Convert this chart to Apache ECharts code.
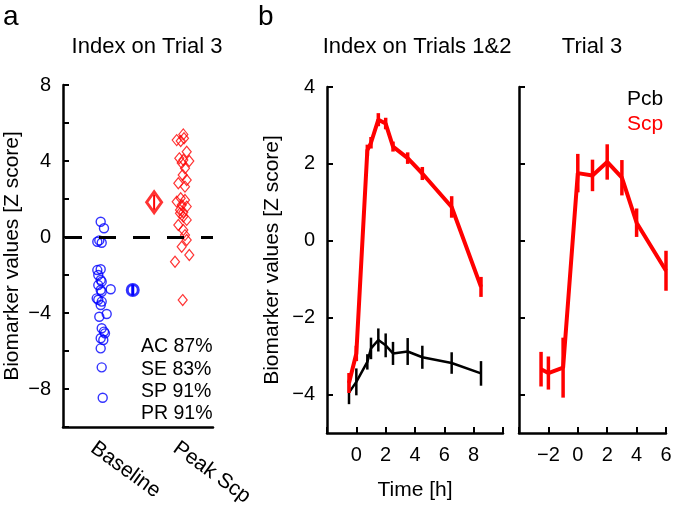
<!DOCTYPE html>
<html><head><meta charset="utf-8">
<script src="https://cdn.jsdelivr.net/npm/echarts@6/dist/echarts.min.js"></script>
<style>html,body{margin:0;padding:0;background:#fff}#c{width:675px;height:517px}</style>
</head><body><div id="c"></div>
<script>
// ---------- Panel a : Index on Trial 3 ----------
const groupLabels = ['Baseline', 'Peak Scp'];
const baselineX = [1.005,1.093,0.915,1.032,0.968, 0.915,1.005,0.941,1.005,1.032,0.941,1.272,1.005,1.032,0.899,0.941,1.032,1.005,0.968,1.165,1.032,1.093,1.12,1.005,1.075,1.005,1.032,1.059];
const baselineY = [0.8,0.46,-0.25,-0.3,-0.18, -1.74,-1.7,-2.0,-2.26,-2.35,-2.53,-2.75,-2.79,-2.88,-3.23,-3.3,-3.4,-3.58,-4.2,-4.05,-4.8,-4.98,-5.07,-5.33,-5.42,-5.86,-6.86,-8.46];
const peakX = [3.208,3.032,3.139,3.227,3.299,3.101,3.208,3.368,3.165,3.253,3.192,3.299,3.075,3.253,3.139,3.032,3.253,3.165,3.299,3.12,3.208,3.12,3.208,3.075,3.299,3.208,3.253,3.299,3.165,3.368,2.987,3.192];
const peakY = [5.4,5.1,5.05,5.2,4.49,4.14,4.05,4.0,3.9,3.62,3.26,3.0,2.83,2.65,2.04,1.86,1.95,1.68,1.6,1.42,1.3,1.25,1.08,0.63,0.9,0.37,0.1,-0.16,-0.51,-0.95,-1.3,-3.32];
const meanX = [1.86, 2.43];
const meanY = [-2.79, 1.83];
const meanErr = [0.3, 0.4];
const statLines = ['AC 87%', 'SE 83%', 'SP 91%', 'PR 91%'];

// ---------- Panel b : Index on Trials 1&2 ----------
const timesA = [-0.5, 0, 0.75, 1, 1.5, 2, 2.5, 3.5, 4.5, 6.5, 8.5];
const pcbA = [-3.95, -3.67, -3.15, -2.8, -2.58, -2.72, -2.93, -2.88, -3.03, -3.18, -3.45];
const pcbAErr = [0.3, 0.35, 0.2, 0.28, 0.3, 0.31, 0.3, 0.35, 0.3, 0.28, 0.32];
const scpA = [-3.7, -2.93, 2.35, 2.55, 3.15, 3.05, 2.45, 2.15, 1.75, 0.88, -1.2];
const scpAErr = [0.26, 0.2, 0.15, 0.15, 0.17, 0.15, 0.13, 0.15, 0.17, 0.28, 0.26];
// ---------- Panel b : Trial 3 ----------
const timesB = [-2.5, -2, -1, 0, 1, 2, 3, 4, 6];
const scpB = [-3.34, -3.44, -3.3, 1.76, 1.7, 2.05, 1.64, 0.47, -0.78];
const scpBErr = [0.45, 0.43, 0.78, 0.5, 0.41, 0.46, 0.46, 0.37, 0.52];

const yTicksB = [-4, -2, 0, 2, 4];

const FONT = "'Liberation Sans', Arial, sans-serif";
const BLUE = '#0000ff', RED = '#ff0000', BLACK = '#000000';
const fmtNum = v => (v < 0 ? '\u2212' + Math.abs(v) : String(v));
const zip = (xs, ys) => xs.map((x, i) => [x, ys[i]]);

function errSeries(xi, yi, xs, ys, es, color, width, z) {
  return {
    type: 'custom', xAxisIndex: xi, yAxisIndex: yi, silent: true, z: z || 3,
    data: xs.map((x, i) => [x, ys[i] - es[i], ys[i] + es[i]]),
    encode: { x: 0, y: [1, 2] },
    renderItem(params, api) {
      const lo = api.coord([api.value(0), api.value(1)]);
      const hi = api.coord([api.value(0), api.value(2)]);
      return { type: 'line', shape: { x1: lo[0], y1: lo[1], x2: hi[0], y2: hi[1] },
        style: { stroke: color, lineWidth: width } };
    }
  };
}

const axisLineStyle = { show: true, onZero: false, lineStyle: { color: BLACK, width: 2.5 } };
const tickStyle = { show: true, inside: true, length: 6, lineStyle: { color: BLACK, width: 2 } };
const labelBase = { color: BLACK, fontSize: 20, fontFamily: FONT };
const nameStyle = { color: BLACK, fontSize: 21, fontFamily: FONT };

const chart = echarts.init(document.getElementById('c'), null, { renderer: 'canvas' });
chart.setOption({
  animation: false,
  backgroundColor: '#fff',
  textStyle: { fontFamily: FONT },
  grid: [
    { left: 63, top: 85, width: 150, height: 342 },
    { left: 327, top: 87, width: 176, height: 346 },
    { left: 519, top: 87, width: 147, height: 346 }
  ],
  xAxis: [
    { gridIndex: 0, type: 'value', min: 0, max: 4, splitLine: { show: false },
      axisLine: axisLineStyle, axisTick: { show: false },
      axisLabel: Object.assign({}, labelBase, { fontSize: 21, customValues: [0.8, 3.0], rotate: -36, margin: 19,
        formatter: v => (v < 2 ? groupLabels[0] : groupLabels[1]) }) },
    { gridIndex: 1, type: 'value', min: -2, max: 10, interval: 2, splitLine: { show: false },
      axisLine: axisLineStyle, axisTick: tickStyle,
      axisLabel: Object.assign({}, labelBase, { margin: 12, formatter: v => (v === -2 || v === 10 ? '' : fmtNum(v)) }),
      name: 'Time [h]', nameLocation: 'middle', nameGap: 47, nameTextStyle: nameStyle },
    { gridIndex: 2, type: 'value', min: -4, max: 6, interval: 2, splitLine: { show: false },
      axisLine: axisLineStyle, axisTick: tickStyle,
      axisLabel: Object.assign({}, labelBase, { margin: 12, formatter: v => (v === -4 ? '' : fmtNum(v)) }) }
  ],
  yAxis: [
    { gridIndex: 0, type: 'value', min: -10, max: 8, interval: 2, splitLine: { show: false },
      axisLine: axisLineStyle, axisTick: tickStyle,
      axisLabel: Object.assign({}, labelBase, { margin: 12, formatter: v => (v % 4 === 0 ? fmtNum(v) : '') }),
      name: 'Biomarker values [Z score]', nameLocation: 'middle', nameGap: 40, nameTextStyle: nameStyle },
    { gridIndex: 1, type: 'value', min: -5, max: 4, splitLine: { show: false },
      axisLine: axisLineStyle, axisTick: Object.assign({ customValues: yTicksB }, tickStyle),
      axisLabel: Object.assign({}, labelBase, { margin: 12, customValues: yTicksB, formatter: v => fmtNum(v) }),
      name: 'Biomarker values [Z score]', nameLocation: 'middle', nameGap: 44, nameTextStyle: nameStyle },
    { gridIndex: 2, type: 'value', min: -5, max: 4, splitLine: { show: false },
      axisLine: axisLineStyle, axisTick: Object.assign({ customValues: yTicksB }, tickStyle),
      axisLabel: { show: false } }
  ],
  legend: {
    orient: 'vertical', left: 617, top: 84, itemGap: 4, itemWidth: 0, itemHeight: 0, icon: 'none',
    selectedMode: false,
    textStyle: { fontSize: 21, fontFamily: FONT },
    data: [ { name: 'Pcb', textStyle: { color: BLACK } }, { name: 'Scp', textStyle: { color: RED } } ]
  },
  graphic: [
    { type: 'text', left: 3, top: 3, style: { text: 'a', fontSize: 28, fontFamily: FONT, fill: BLACK } },
    { type: 'text', left: 258, top: 3, style: { text: 'b', fontSize: 28, fontFamily: FONT, fill: BLACK } },
    { type: 'text', x: 147, y: 47, style: { text: 'Index on Trial 3', align: 'center', verticalAlign: 'middle', fontSize: 22, fontFamily: FONT, fill: BLACK } },
    { type: 'text', x: 417, y: 47, style: { text: 'Index on Trials 1&2', align: 'center', verticalAlign: 'middle', fontSize: 22, fontFamily: FONT, fill: BLACK } },
    { type: 'text', x: 592, y: 47, style: { text: 'Trial 3', align: 'center', verticalAlign: 'middle', fontSize: 22, fontFamily: FONT, fill: BLACK } },
    { type: 'text', left: 141, top: 336, style: { text: statLines.join('\n'), fontSize: 19.5, lineHeight: 22.2, fontFamily: FONT, fill: BLACK } }
  ],
  series: [
    { type: 'scatter', xAxisIndex: 0, yAxisIndex: 0, data: zip(baselineX, baselineY),
      symbol: 'circle', symbolSize: 9, itemStyle: { color: 'transparent', borderColor: BLUE, borderWidth: 1.4 },
      markLine: { silent: true, symbol: 'none', label: { show: false },
        lineStyle: { color: BLACK, width: 3, type: [17, 17], dashOffset: -2 }, data: [{ yAxis: 0 }] } },
    { type: 'scatter', xAxisIndex: 0, yAxisIndex: 0, data: zip(peakX, peakY),
      symbol: 'diamond', symbolSize: [9, 11], itemStyle: { color: 'transparent', borderColor: RED, borderWidth: 1.2 } },
    errSeries(0, 0, [meanX[0]], [meanY[0]], [meanErr[0]], BLUE, 3, 4),
    errSeries(0, 0, [meanX[1]], [meanY[1]], [meanErr[1]], RED, 2, 4),
    { type: 'scatter', xAxisIndex: 0, yAxisIndex: 0, data: [[meanX[0], meanY[0]]], z: 4,
      symbol: 'circle', symbolSize: 11, itemStyle: { color: 'transparent', borderColor: BLUE, borderWidth: 3 } },
    { type: 'scatter', xAxisIndex: 0, yAxisIndex: 0, data: [[meanX[1], meanY[1]]], z: 4,
      symbol: 'diamond', symbolSize: [15, 21], itemStyle: { color: 'transparent', borderColor: RED, borderWidth: 3 } },

    { name: 'Pcb', type: 'line', xAxisIndex: 1, yAxisIndex: 1, data: zip(timesA, pcbA), showSymbol: false,
      lineStyle: { color: BLACK, width: 2.5 }, itemStyle: { color: BLACK }, z: 2 },
    errSeries(1, 1, timesA, pcbA, pcbAErr, BLACK, 2.5, 2),
    { name: 'Scp', type: 'line', xAxisIndex: 1, yAxisIndex: 1, data: zip(timesA, scpA), showSymbol: false,
      lineStyle: { color: RED, width: 4 }, itemStyle: { color: RED }, z: 3 },
    errSeries(1, 1, timesA, scpA, scpAErr, RED, 3.5, 3),

    { type: 'line', xAxisIndex: 2, yAxisIndex: 2, data: zip(timesB, scpB), showSymbol: false,
      lineStyle: { color: RED, width: 4 }, z: 3 },
    errSeries(2, 2, timesB, scpB, scpBErr, RED, 3.5, 3)
  ]
});
</script></body></html>
